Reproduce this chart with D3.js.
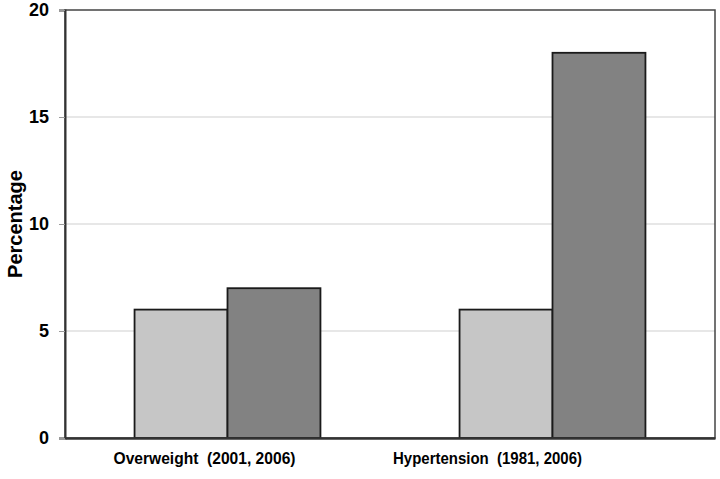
<!DOCTYPE html>
<html><head><meta charset="utf-8">
<script src="https://cdn.jsdelivr.net/npm/d3@7"></script>
<style>body{margin:0;background:#fff}text{font-family:Arial,"Liberation Sans",sans-serif;font-weight:bold}</style>
</head><body>
<svg id="c" width="720" height="479"></svg>
<script>
const categories = ["Overweight  (2001, 2006)", "Hypertension  (1981, 2006)"];
const series = ["first", "second"];
const firstValues = [6, 6];
const secondValues = [7, 18];
const yTicks = [0, 5, 10, 15, 20];
const colors = ["#c6c6c6", "#828282"];

const svg = d3.select("#c");
const m = {l: 65, r: 5, t: 10, b: 41};
const W = 720, H = 479;
const x = d3.scaleBand().domain(categories).range([m.l, W - m.r]).paddingInner(0.428).paddingOuter(0.214);
const xi = d3.scaleBand().domain(series).range([0, x.bandwidth()]);
const y = d3.scaleLinear().domain([0, 20]).range([H - m.b, m.t]);

// gridlines
svg.append("g").selectAll("line").data(yTicks.filter(d => d > 0 && d < 20)).join("line")
  .attr("x1", m.l).attr("x2", W - m.r).attr("y1", d => y(d)).attr("y2", d => y(d))
  .attr("stroke", "#cfcfcf").attr("stroke-width", 1);

// frame
svg.append("rect").attr("x", m.l).attr("y", y(20)).attr("width", W - m.r - m.l).attr("height", y(0) - y(20))
  .attr("fill", "none").attr("stroke", "#444").attr("stroke-width", 1.5);

// bars
const data = categories.map((c, i) => [{c, s: "first", v: firstValues[i], k: 0}, {c, s: "second", v: secondValues[i], k: 1}]).flat();
svg.append("g").selectAll("rect").data(data).join("rect")
  .attr("x", d => x(d.c) + xi(d.s)).attr("width", xi.bandwidth())
  .attr("y", d => y(d.v)).attr("height", d => y(0) - y(d.v))
  .attr("fill", d => colors[d.k]).attr("stroke", "#1a1a1a").attr("stroke-width", 1.8);

// y axis
const ya = d3.axisLeft(y).tickValues(yTicks).tickSize(6).tickPadding(6).tickFormat(d3.format("d"));
const yg = svg.append("g").attr("transform", `translate(${m.l},0)`).call(ya);
yg.select(".domain").attr("stroke", "#333").attr("stroke-width", 2);
yg.selectAll(".tick line").attr("stroke", "#999");
yg.selectAll("text").attr("font-size", 18).attr("fill", "#000").attr("dx", -4);

// x axis
const labelWidths = [182, 189];
const xa = d3.axisBottom(x).tickSize(0).tickPadding(14);
const xg = svg.append("g").attr("transform", `translate(0,${y(0)})`).call(xa);
xg.select(".domain").attr("stroke", "#333").attr("stroke-width", 2.5);
xg.selectAll(".tick").attr("transform", d => `translate(${x(d) + x.bandwidth() / 2 - 23 - categories.indexOf(d) * 42},0)`);
xg.selectAll("text").attr("font-size", 17).attr("fill", "#000").attr("dy", "0.68em")
  .attr("xml:space", "preserve")
  .attr("textLength", d => labelWidths[categories.indexOf(d)]).attr("lengthAdjust", "spacingAndGlyphs");

svg.append("text").attr("transform", `translate(22,${(y(0) + y(20)) / 2}) rotate(-90)`)
  .attr("text-anchor", "middle").attr("font-size", 20).attr("fill", "#000").text("Percentage");
</script>
</body></html>
